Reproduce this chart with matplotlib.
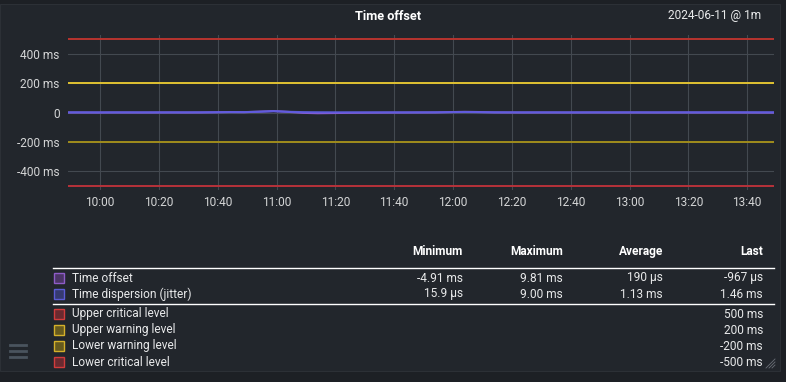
import numpy as np
import matplotlib
matplotlib.use("Agg")
import matplotlib.pyplot as plt
from matplotlib.patches import Rectangle
from matplotlib.lines import Line2D

plt.rcParams["font.family"] = ["Roboto", "DejaVu Sans"]

# ------------------------------------------------------------
# Data (values in ms, sampled every 5 minutes from 09:49)
# ------------------------------------------------------------
start_min = 9 * 60 + 49
times = start_min + np.arange(49) * 5

offset_ms = [0.2, 0.1, -0.3, 0.2, 0.0, -0.2, 0.1, 0.3, -0.1, 0.2,
             1.5, 3.2, 2.1, 5.8, 9.81, 4.2, -2.5, -4.91, -3.8, -2.6,
             -1.9, -1.2, -0.6, -0.3, 0.1, 0.4, 2.8, 4.5, 3.1, 0.6,
             0.2, -0.1, 0.1, 0.0, -0.2, 0.1, 0.2, -0.1, 0.0, 0.1,
             -0.2, 0.1, 0.0, -0.3, 0.2, 0.1, -0.4, -0.8, -0.967]

jitter_ms = [0.8, 0.9, 0.7, 0.8, 1.0, 0.9, 0.8, 0.9, 1.0, 1.1,
             1.6, 2.4, 2.8, 5.1, 9.00, 4.8, 2.6, 1.9, 1.5, 1.3,
             1.2, 1.1, 1.0, 0.9, 1.0, 1.2, 2.2, 2.9, 2.0, 1.3,
             1.1, 1.0, 0.9, 1.0, 0.9, 0.8, 1.0, 0.9, 1.1, 1.0,
             0.9, 1.0, 1.1, 1.0, 0.9, 1.2, 1.3, 1.4, 1.46]

thresholds = [500, 200, -200, -500]
threshold_colors = ["#b8342f", "#e0c232", "#a08c1c", "#b8323a"]

tick_labels = ["10:00", "10:20", "10:40", "11:00", "11:20", "11:40",
               "12:00", "12:20", "12:40", "13:00", "13:20", "13:40"]
tick_mins = [int(t[:2]) * 60 + int(t[3:]) for t in tick_labels]

columns = ["Minimum", "Maximum", "Average", "Last"]
series_names = ["Time offset", "Time dispersion (jitter)"]
series_stats = [["-4.91 ms", "9.81 ms", "190 µs", "-967 µs"],
                ["15.9 µs", "9.00 ms", "1.13 ms", "1.46 ms"]]
level_names = ["Upper critical level", "Upper warning level",
               "Lower warning level", "Lower critical level"]
level_values = ["500 ms", "200 ms", "-200 ms", "-500 ms"]

# ------------------------------------------------------------
# Figure setup
# ------------------------------------------------------------
W, H = 786, 382
BG = "#22262c"
OUTER = "#1d2025"
TXT = "#e8e9ea"
FS = 8.6

fig = plt.figure(figsize=(W / 100, H / 100), dpi=100)
fig.patch.set_facecolor(OUTER)


def fx(x):
    return x / W


def fy(y):
    return 1 - y / H


fig.patches.append(Rectangle((0, fy(371)), fx(780), fy(4) - fy(371),
                             transform=fig.transFigure, facecolor=BG,
                             edgecolor="#2c3036", linewidth=0.8, zorder=-5))

ax = fig.add_axes([fx(68), fy(190), fx(774) - fx(68), fy(35) - fy(190)])
ax.set_zorder(1)
ax.set_facecolor(BG)
for s in ax.spines.values():
    s.set_visible(False)

ax.set_xlim(start_min + 0.1, start_min + 240.1)
ax.set_ylim(-529, 529)
ax.set_xticks(tick_mins)
ax.set_xticklabels(tick_labels)
ax.set_yticks([400, 200, 0, -200, -400])
ax.set_yticklabels(["400 ms", "200 ms", "0", "-200 ms", "-400 ms"])
ax.tick_params(length=0, colors="#d4d5d6", labelsize=FS)
ax.tick_params(axis="y", pad=6)
ax.tick_params(axis="x", pad=4)
ax.grid(True, color="#434950", linewidth=0.8)

for val, col in zip(thresholds, threshold_colors):
    ax.axhline(val, color=col, linewidth=1.4, zorder=3)

ax.plot(times, offset_ms, color="#8a5cd0", linewidth=1.5, zorder=4)
ax.plot(times, jitter_ms, color="#5c5ce0", linewidth=1.5, alpha=0.9, zorder=5)

# ------------------------------------------------------------
# Title / time range
# ------------------------------------------------------------
fig.text(fx(388), fy(17), "Time offset", ha="center", va="center",
         color="white", fontsize=9.2, fontweight="bold")
fig.text(fx(761), fy(16), "2024-06-11 @ 1m", ha="right", va="center",
         color=TXT, fontsize=FS)

# ------------------------------------------------------------
# Legend table
# ------------------------------------------------------------
col_x = [463, 563, 663, 763]
for name, x in zip(columns, col_x):
    fig.text(fx(x), fy(251), name, ha="right", va="center",
             color="white", fontsize=FS, fontweight="bold")

for y in (267.5, 303.5):
    fig.add_artist(Line2D([fx(53), fx(774)], [fy(y), fy(y)],
                          color="white", linewidth=1.0))


def legend_square(y, face, edge):
    fig.patches.append(Rectangle((fx(53.5), fy(y + 5)), fx(10), fy(0) - fy(10),
                                 transform=fig.transFigure, facecolor=face,
                                 edgecolor=edge, linewidth=1.0, zorder=3))


series_sq = [("#4b3566", "#8e5cc8"), ("#363a70", "#5c5cd6")]
for i, (name, stats) in enumerate(zip(series_names, series_stats)):
    y = 278 + i * 16
    legend_square(y, *series_sq[i])
    fig.text(fx(72), fy(y), name, ha="left", va="center", color=TXT, fontsize=FS)
    for v, x in zip(stats, col_x):
        fig.text(fx(x), fy(y), v, ha="right", va="center", color=TXT, fontsize=FS)

level_sq = [("#6a2a30", "#d23c3c"), ("#665a1e", "#d4b02a"),
            ("#665a1e", "#d4b02a"), ("#6a2a30", "#d23c3c")]
for i, (name, v) in enumerate(zip(level_names, level_values)):
    y = 314 + i * 16
    legend_square(y, *level_sq[i])
    fig.text(fx(72), fy(y), name, ha="left", va="center", color=TXT, fontsize=FS)
    fig.text(fx(763), fy(y), v, ha="right", va="center", color=TXT, fontsize=FS)

# hamburger icon
for y in (345, 351, 357):
    fig.add_artist(Line2D([fx(10), fx(26)], [fy(y), fy(y)],
                          color="#4a545e", linewidth=2.0))

# resize grip
for k in range(3):
    fig.add_artist(Line2D([fx(766 + 3 * k), fx(775)], [fy(368), fy(359 + 3 * k)],
                          color="#6a6f76", linewidth=0.6))

fig.savefig("out.png", dpi=100, facecolor=fig.get_facecolor())
